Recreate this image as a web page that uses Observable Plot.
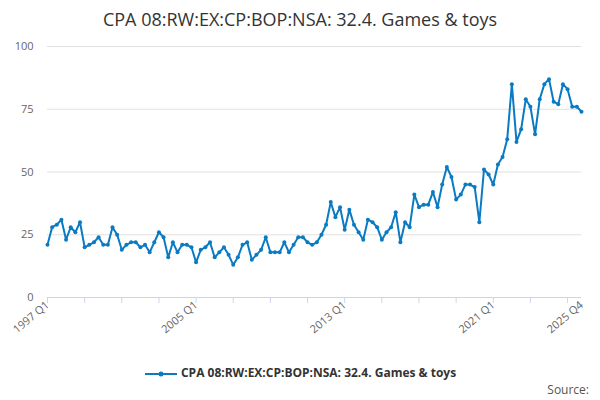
<!DOCTYPE html>
<html><head><meta charset="utf-8">
<script src="https://cdn.jsdelivr.net/npm/d3@7"></script>
<script src="https://cdn.jsdelivr.net/npm/@observablehq/plot@0.6"></script>
<style>
body{margin:0;font-family:"Open Sans",sans-serif;width:600px;height:400px;overflow:hidden;position:relative}
#title{height:36px;line-height:38px;text-align:center;font-size:18px;color:#333}
#legend{position:absolute;top:364px;width:100%;text-align:center;font-size:12px;font-weight:bold;color:#333}
#src{position:absolute;top:381px;right:11px;font-size:12px;color:#555}
</style></head><body>
<div id="title">CPA 08:RW:EX:CP:BOP:NSA: 32.4. Games &amp; toys</div>
<div id="chart"></div>
<div id="legend"><svg width="34" height="10" style="vertical-align:middle"><line x1="1" y1="5" x2="33" y2="5" stroke="#0a7bc2" stroke-width="2"/><circle cx="17" cy="5" r="2.5" fill="#0a7bc2"/></svg> CPA 08:RW:EX:CP:BOP:NSA: 32.4. Games &amp; toys</div>
<div id="src">Source:</div>
<script>
const years = d3.range(1997, 2026);
const quarters = ["Q1","Q2","Q3","Q4"];
const values = [21,28,29,31, 23,28,26,30, 20,21,22,24, 21,21,28,25, 19,21,22,22, 20,21,18,22,
26,24,16,22, 18,21,21,20, 14,19,20,22, 16,18,20,17, 13,16,21,22, 15,17,19,24, 18,18,18,22,
18,21,24,24, 22,21,22,25, 29,38,32,36, 27,35,29,26, 23,31,30,28, 23,26,28,34, 22,30,28,41,
36,37,37,42, 36,45,52,48, 39,41,45,45, 44,30,51,49, 45,53,56,63, 85,62,67,79, 76,65,79,85,
87,78,77,85, 83,76,76,74];
const labels = years.flatMap(y => quarters.map(q => `${y} ${q}`));
const data = values.map((v,i)=>({i, v, label: labels[i]}));
const majorTicks = [0,32,64,96,115];
const minorTicks = d3.range(0,116,8);
const color = "#0a7bc2";
const chart = Plot.plot({
  width:600, height:320, marginLeft:47, marginRight:19, marginTop:10, marginBottom:59,
  style:{fontFamily:"Open Sans", fontSize:"11px", color:"#666"},
  x:{domain:[0,115], label:null},
  y:{domain:[0,100], label:null},
  marks:[
    Plot.gridY([25,50,75,100],{stroke:"#e0e0e0", strokeOpacity:1}),
    Plot.axisY([0,25,50,75,100],{tickSize:0, tickPadding:14, fill:"#666", label:null}),
    Plot.axisX(minorTicks,{tickSize:6, tickFormat:null, stroke:"#ccd6eb", strokeOpacity:1, label:null, text:null}),
    Plot.axisX(majorTicks,{tickSize:0, tickPadding:6, tickRotate:-40, tickFormat:i=>labels[i], fill:"#666", label:null}),
    Plot.ruleY([0],{stroke:"#ccd6eb"}),
    Plot.line(data,{x:"i", y:"v", stroke:color, strokeWidth:2}),
    Plot.dot(data,{x:"i", y:"v", fill:color, r:2})
  ]
});
document.getElementById("chart").append(chart);
</script></body></html>
